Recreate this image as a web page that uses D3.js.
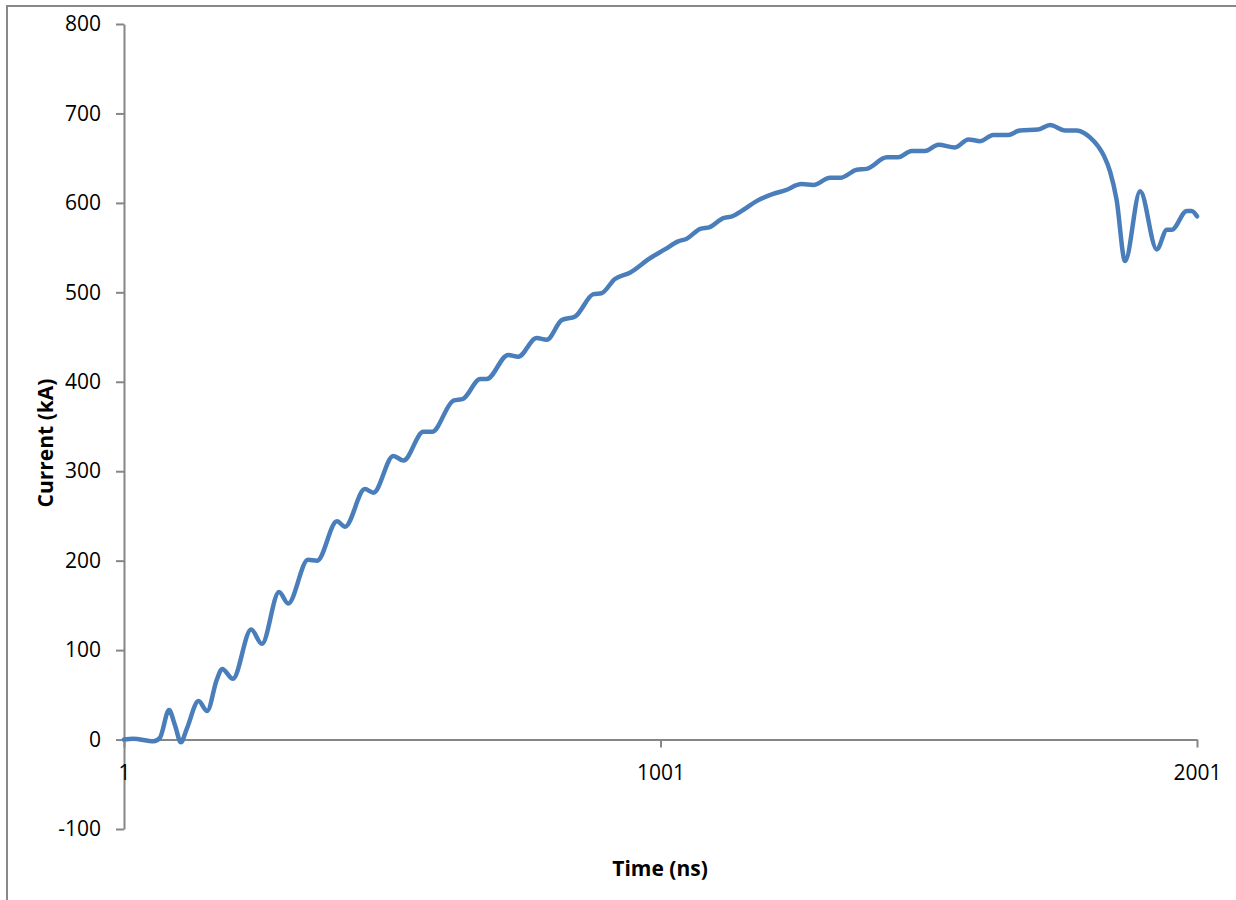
<!DOCTYPE html>
<html>
<head>
<meta charset="utf-8">
<script src="https://cdn.jsdelivr.net/npm/d3@7"></script>
<style>
  body { margin: 0; background: #fff; }
  .chart text { font-family: "Open Sans", sans-serif; fill: #000; }
  .axis path, .axis line { stroke: #868686; stroke-width: 2; }
</style>
</head>
<body>
<svg class="chart"></svg>
<script>
var width = 1236;
var height = 900;

// time (ns) and current (kA)
var timeNs = [1, 18, 56, 68, 85, 96, 107, 118, 140, 156, 174, 184, 204, 238, 258, 290, 307,
  344, 361, 398, 413, 450, 466, 503, 522, 559, 575, 615, 633, 665, 677, 717, 736, 770, 789,
  817, 842, 876, 891, 916, 944, 981, 1009, 1034, 1050, 1075, 1093, 1118, 1134, 1155, 1180,
  1211, 1233, 1264, 1286, 1317, 1336, 1367, 1385, 1423, 1444, 1469, 1494, 1519, 1550, 1575,
  1597, 1621, 1649, 1671, 1705, 1727, 1755, 1777, 1802, 1817, 1828, 1839, 1851, 1867, 1895,
  1926, 1945, 1954, 1982, 1991, 2001];
var currentKA = [0, 1, -2, 2, 33, 16, -3, 12, 43, 32, 67, 79, 68, 123, 107, 165, 152,
  201, 200, 244, 238, 280, 276, 317, 312, 344, 344, 379, 381, 403, 403, 430, 428, 449, 447,
  469, 473, 498, 499, 515, 522, 538, 548, 557, 560, 571, 573, 583, 585, 592, 602,
  610, 614, 621, 620, 628, 628, 637, 638, 651, 651, 658, 658, 665, 662, 671,
  669, 676, 676, 681, 682, 687, 681, 681, 673, 663, 652, 635, 604, 535, 613,
  548, 570, 570, 591, 591, 585];

var xTicks = [1, 1001, 2001];
var yTicks = [-100, 0, 100, 200, 300, 400, 500, 600, 700, 800];

var data = timeNs.map(function(t, i) {
    return { t: t, v: currentKA[i] };
});

var chart = d3.select(".chart")
    .attr("width", width)
    .attr("height", height);

// outer frame (right and bottom sides fall outside the picture)
chart.append("rect")
    .attr("x", 7)
    .attr("y", 6)
    .attr("width", width + 20)
    .attr("height", height + 20)
    .attr("fill", "#fff")
    .attr("stroke", "#888")
    .attr("stroke-width", 2);

var x = d3.scaleLinear().domain([1, 2001]).range([124, 1197]);
var y = d3.scaleLinear().domain([-100, 800]).range([829, 24]);

var plain = function(d) { return String(d); }; // keep the ascii hyphen for -100

chart.append("g")
    .attr("class", "axis")
    .attr("transform", "translate(" + x(1) + ",0)")
    .call(d3.axisLeft(y).tickValues(yTicks).tickSize(8).tickSizeOuter(0).tickPadding(15).tickFormat(plain));

chart.append("g")
    .attr("class", "axis")
    .attr("transform", "translate(0," + y(0) + ")")
    .call(d3.axisBottom(x).tickValues(xTicks).tickSize(8).tickSizeOuter(0).tickPadding(18).tickFormat(plain));

chart.selectAll(".axis text")
    .style("font-size", "21px")
    .style("font-family", "'Open Sans', sans-serif")
    .attr("fill", "#000");

var line = d3.line()
    .x(function(d) { return x(d.t); })
    .y(function(d) { return y(d.v); })
    .curve(d3.curveMonotoneX);

chart.append("path")
    .datum(data)
    .attr("fill", "none")
    .attr("stroke", "#4a7ebb")
    .attr("stroke-width", 4.5)
    .attr("stroke-linejoin", "round")
    .attr("stroke-linecap", "round")
    .attr("d", line);

chart.append("text")
    .attr("x", 660)
    .attr("y", 876)
    .attr("text-anchor", "middle")
    .style("font-size", "21px")
    .style("font-weight", "bold")
    .text("Time (ns)");

chart.append("text")
    .attr("transform", "translate(53,443) rotate(-90)")
    .attr("text-anchor", "middle")
    .style("font-size", "21px")
    .style("font-weight", "bold")
    .text("Current (kA)");
</script>
</body>
</html>
